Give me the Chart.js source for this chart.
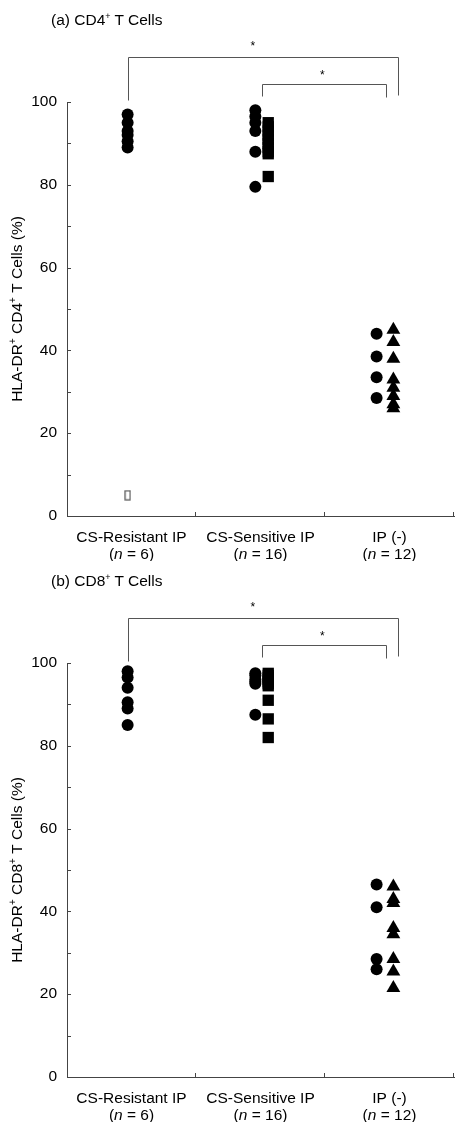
<!DOCTYPE html>
<html>
<head>
<meta charset="utf-8">
<script src="https://cdn.jsdelivr.net/npm/chart.js@4.4.1/dist/chart.umd.min.js"></script>
<style>
  body { margin: 0; background: #fff; font-family: "Liberation Sans", Arial, sans-serif; }
  .panel { position: relative; width: 462px; height: 561px; }
  .title { position: absolute; left: 51px; top: 7px; font-size: 15.5px; line-height: 18px; color: #000; }
  .title sup { font-size: 9px; }
  canvas { display: block; }
</style>
</head>
<body>
<div class="panel">
  <div class="title">(a) CD4<sup>+</sup> T Cells</div>
  <canvas id="cd4" width="462" height="561"></canvas>
</div>
<div class="panel">
  <div class="title">(b) CD8<sup>+</sup> T Cells</div>
  <canvas id="cd8" width="462" height="561"></canvas>
</div>
<script>
// Groups along the x axis
const groups = ['CS-Resistant IP', 'CS-Sensitive IP', 'IP (-)'];
const groupN = [6, 16, 12];
const yTicks = [0, 20, 40, 60, 80, 100];

// (a) CD4+ values (%)
const cd4Resistant = [97, 95, 93, 92, 90.5, 89];
const cd4ResistantOpen = [5];
const cd4SensCircles = [98, 96.5, 95, 93, 88, 79.5];
const cd4SensSquares = [95, 94, 93, 92, 91, 90, 89, 88, 87.5, 82];
const cd4NegCircles = [44, 38.5, 33.5, 28.5];
const cd4NegTriangles = [45, 42, 38, 33, 31, 29, 27, 26];

// (b) CD8+ values (%)
const cd8Resistant = [98, 96.5, 94, 90.5, 89, 85];
const cd8SensCircles = [97.5, 97, 96, 95.5, 95, 87.5];
const cd8SensSquares = [97.5, 97, 96.5, 96, 95.5, 95, 94.5, 91, 86.5, 82];
const cd8NegCircles = [46.5, 41, 28.5, 26];
const cd8NegTriangles = [46, 43, 42, 36, 34.5, 28.5, 25.5, 21.5];

// column positions on the linear x axis (each group is 1 wide)
const colResistant = 0.47;
const colSensCircle = 1.46;
const colSensSquare = 1.56;
const colNegCircle = 2.40;
const colNegTriangle = 2.53;

const axisColor = '#444';
const FONT = '"Liberation Sans", Arial, sans-serif';
const FS = 15.5;

// small open rectangle used for the outlier marker
const openRect = document.createElement('canvas');
openRect.width = 7; openRect.height = 11;
(function () {
  const c = openRect.getContext('2d');
  c.strokeStyle = '#555';
  c.lineWidth = 1.2;
  c.strokeRect(1, 1, 5, 9);
})();

function pts(x, arr) {
  return arr.map(v => ({ x: x, y: v }));
}

function fontOf(p, size) {
  return (p.it ? 'italic ' : '') + (p.sup ? 10 : size) + 'px ' + FONT;
}

// draw text made of parts (superscript / italic), centred on x
function drawRich(ctx, parts, x, y, size) {
  let total = 0;
  parts.forEach(p => {
    ctx.font = fontOf(p, size);
    p.w = ctx.measureText(p.t).width;
    total += p.w;
  });
  let cx = x - total / 2;
  ctx.textAlign = 'left';
  ctx.textBaseline = 'middle';
  parts.forEach(p => {
    ctx.font = fontOf(p, size);
    ctx.fillText(p.t, cx, p.sup ? y - 5 : y);
    cx += p.w;
  });
}

// ticks, x labels, y title and significance brackets
const decorPlugin = {
  id: 'decor',
  afterDraw(chart) {
    const ctx = chart.ctx;
    const xs = chart.scales.x;
    const ys = chart.scales.y;
    const area = chart.chartArea;
    ctx.save();
    ctx.strokeStyle = axisColor;
    ctx.lineWidth = 1;

    // inward tick marks
    for (let v = 0; v <= 100; v += 10) {
      const y = Math.round(ys.getPixelForValue(v)) + 0.5;
      ctx.beginPath();
      ctx.moveTo(area.left, y);
      ctx.lineTo(area.left + 4, y);
      ctx.stroke();
    }
    [1, 2, 3].forEach(v => {
      const x = Math.round(xs.getPixelForValue(v)) - 0.5;
      ctx.beginPath();
      ctx.moveTo(x, area.bottom);
      ctx.lineTo(x, area.bottom - 4);
      ctx.stroke();
    });

    // x labels
    ctx.fillStyle = '#000';
    groups.forEach((g, i) => {
      const x = xs.getPixelForValue(i + 0.5);
      drawRich(ctx, [{ t: g }], x, area.bottom + 22, FS);
      drawRich(ctx, [{ t: '(' }, { t: 'n', it: true }, { t: ' = ' + groupN[i] + ')' }], x, area.bottom + 39, FS);
    });

    // y title, rotated
    const cd = chart.options.plugins.decor.cd;
    ctx.save();
    ctx.translate(18, (area.top + area.bottom) / 2);
    ctx.rotate(-Math.PI / 2);
    drawRich(ctx, [{ t: 'HLA-DR' }, { t: '+', sup: true }, { t: ' ' + cd }, { t: '+', sup: true }, { t: ' T Cells (%)' }], 0, 0, FS);
    ctx.restore();

    // significance brackets
    const top = ys.getPixelForValue(100);
    const bx = v => Math.round(xs.getPixelForValue(v)) + 0.5;
    const by = d => Math.round(top + d) + 0.5;
    ctx.strokeStyle = '#555';
    ctx.beginPath();
    ctx.moveTo(bx(0.476), by(-2));
    ctx.lineTo(bx(0.476), by(-45));
    ctx.lineTo(bx(2.563), by(-45));
    ctx.lineTo(bx(2.563), by(-7));
    ctx.moveTo(bx(1.512), by(-6));
    ctx.lineTo(bx(1.512), by(-18));
    ctx.lineTo(bx(2.471), by(-18));
    ctx.lineTo(bx(2.471), by(-5));
    ctx.stroke();
    ctx.font = '12px ' + FONT;
    ctx.textAlign = 'center';
    ctx.textBaseline = 'middle';
    ctx.fillText('*', xs.getPixelForValue(1.44), top - 55);
    ctx.fillText('*', xs.getPixelForValue(1.98), top - 26);
    ctx.restore();
  }
};

function makeChart(id, cd, resistant, open, sensC, sensS, negC, negT) {
  const datasets = [
    { data: pts(colResistant, resistant), pointStyle: 'circle', pointRadius: 6 },
    { data: pts(colSensCircle, sensC), pointStyle: 'circle', pointRadius: 6 },
    { data: pts(colSensSquare, sensS), pointStyle: 'rect', pointRadius: 8 },
    { data: pts(colNegCircle, negC), pointStyle: 'circle', pointRadius: 6 },
    { data: pts(colNegTriangle, negT), pointStyle: 'triangle', pointRadius: 8 }
  ];
  if (open.length) {
    datasets.push({ data: pts(colResistant, open), pointStyle: openRect, pointRadius: 5 });
  }
  datasets.forEach(d => {
    d.backgroundColor = '#000';
    d.borderColor = '#000';
    d.borderWidth = 0;
    d.clip = false;
  });

  return new Chart(document.getElementById(id), {
    type: 'scatter',
    data: { datasets: datasets },
    plugins: [decorPlugin],
    options: {
      responsive: false,
      animation: false,
      events: [],
      layout: { padding: { top: 102, right: 4, left: 0, bottom: 0 } },
      plugins: {
        legend: { display: false },
        tooltip: { enabled: false },
        decor: { cd: cd }
      },
      scales: {
        x: {
          type: 'linear',
          min: 0,
          max: 3,
          grid: { display: false, drawTicks: false },
          border: { display: true, color: axisColor, width: 1 },
          ticks: { display: false },
          afterFit(scale) { scale.height = 45; }
        },
        y: {
          min: 0,
          max: 100,
          grid: { display: false, drawTicks: false },
          border: { display: true, color: axisColor, width: 1 },
          afterBuildTicks(scale) { scale.ticks = yTicks.map(v => ({ value: v })); },
          ticks: {
            padding: 10,
            color: '#000',
            font: { family: FONT, size: FS }
          },
          afterFit(scale) { scale.width = 67; }
        }
      }
    }
  });
}

makeChart('cd4', 'CD4', cd4Resistant, cd4ResistantOpen, cd4SensCircles, cd4SensSquares, cd4NegCircles, cd4NegTriangles);
makeChart('cd8', 'CD8', cd8Resistant, [], cd8SensCircles, cd8SensSquares, cd8NegCircles, cd8NegTriangles);
</script>
</body>
</html>
